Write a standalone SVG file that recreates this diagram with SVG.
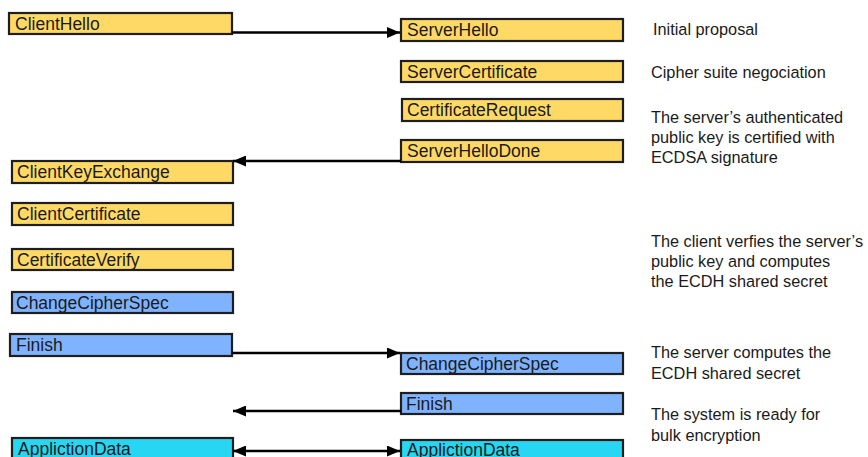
<svg xmlns="http://www.w3.org/2000/svg" width="868" height="457" viewBox="0 0 868 457">
  <style>
    .box { stroke: #1e1e1e; stroke-width: 2.2; }
    .hs { fill: #ffd966; }
    .cc { fill: #80b3ff; }
    .ad { fill: #26d6f2; }
    .lbl { font-family: "Liberation Sans", Arial, sans-serif; font-size: 17.5px; fill: #1a1a1a; }
    .note { font-family: "Liberation Sans", Arial, sans-serif; font-size: 16.3px; fill: #1a1a1a; }
    .wire { stroke: #000; stroke-width: 2.6; fill: none; }
  </style>
  <defs>
    <marker id="head" viewBox="0 0 13 11" refX="13" refY="5.5" markerWidth="13" markerHeight="11" markerUnits="userSpaceOnUse" orient="auto-start-reverse">
      <path d="M0,0 L13,5.5 L0,11 z" fill="#000"/>
    </marker>
  </defs>
  <rect width="868" height="457" fill="#fff"/>

  <!-- client side -->
  <g id="client-hello"><rect class="box hs" x="9" y="13" width="223" height="21"/><text class="lbl" x="15" y="29.5">ClientHello</text></g>
  <g id="client-key-exchange"><rect class="box hs" x="12" y="161" width="221" height="22"/><text class="lbl" x="17" y="178">ClientKeyExchange</text></g>
  <g id="client-certificate"><rect class="box hs" x="12" y="203" width="221" height="22"/><text class="lbl" x="17" y="220">ClientCertificate</text></g>
  <g id="certificate-verify"><rect class="box hs" x="12" y="249" width="221" height="21"/><text class="lbl" x="17" y="265.5">CertificateVerify</text></g>
  <g id="client-change-cipher-spec"><rect class="box cc" x="12" y="292" width="221" height="21"/><text class="lbl" x="16" y="308.5">ChangeCipherSpec</text></g>
  <g id="client-finish"><rect class="box cc" x="10" y="334" width="222" height="22"/><text class="lbl" x="16" y="351">Finish</text></g>
  <g id="client-application-data"><rect class="box ad" x="12" y="438" width="221" height="22"/><text class="lbl" x="18" y="455">ApplictionData</text></g>

  <!-- server side -->
  <g id="server-hello"><rect class="box hs" x="401" y="19" width="222" height="22"/><text class="lbl" x="407" y="36">ServerHello</text></g>
  <g id="server-certificate"><rect class="box hs" x="401" y="61" width="222" height="21"/><text class="lbl" x="407" y="77.5">ServerCertificate</text></g>
  <g id="certificate-request"><rect class="box hs" x="402" y="99" width="221" height="22"/><text class="lbl" x="407" y="116">CertificateRequest</text></g>
  <g id="server-hello-done"><rect class="box hs" x="401" y="140" width="222" height="22"/><text class="lbl" x="407" y="157">ServerHelloDone</text></g>
  <g id="server-change-cipher-spec"><rect class="box cc" x="401" y="353" width="222" height="21"/><text class="lbl" x="406" y="369.5">ChangeCipherSpec</text></g>
  <g id="server-finish"><rect class="box cc" x="401" y="393" width="222" height="21"/><text class="lbl" x="406" y="409.5">Finish</text></g>
  <g id="server-application-data"><rect class="box ad" x="401" y="440" width="222" height="22"/><text class="lbl" x="407" y="456">ApplictionData</text></g>

  <!-- messages between client and server -->
  <g id="connectors">
    <path class="wire" d="M232,32.5 H400" marker-end="url(#head)"/>
    <path class="wire" d="M401,161 H233" marker-end="url(#head)"/>
    <path class="wire" d="M232,353 H400" marker-end="url(#head)"/>
    <path class="wire" d="M401,411 H233" marker-end="url(#head)"/>
    <path class="wire" d="M233,451 H400" marker-start="url(#head)" marker-end="url(#head)"/>
  </g>

  <!-- annotations -->
  <g id="notes">
    <text class="note" x="653" y="34.5">Initial proposal</text>
    <text class="note" x="651" y="77.5">Cipher suite negociation</text>
    <text class="note" x="651" y="123">The server’s authenticated</text>
    <text class="note" x="651" y="143">public key is certified with</text>
    <text class="note" x="651" y="163">ECDSA signature</text>
    <text class="note" x="651" y="247">The client verfies the server’s</text>
    <text class="note" x="651" y="267">public key and computes</text>
    <text class="note" x="651" y="287">the ECDH shared secret</text>
    <text class="note" x="651" y="358">The server computes the</text>
    <text class="note" x="651" y="379">ECDH shared secret</text>
    <text class="note" x="651" y="420">The system is ready for</text>
    <text class="note" x="651" y="441">bulk encryption</text>
  </g>
</svg>
